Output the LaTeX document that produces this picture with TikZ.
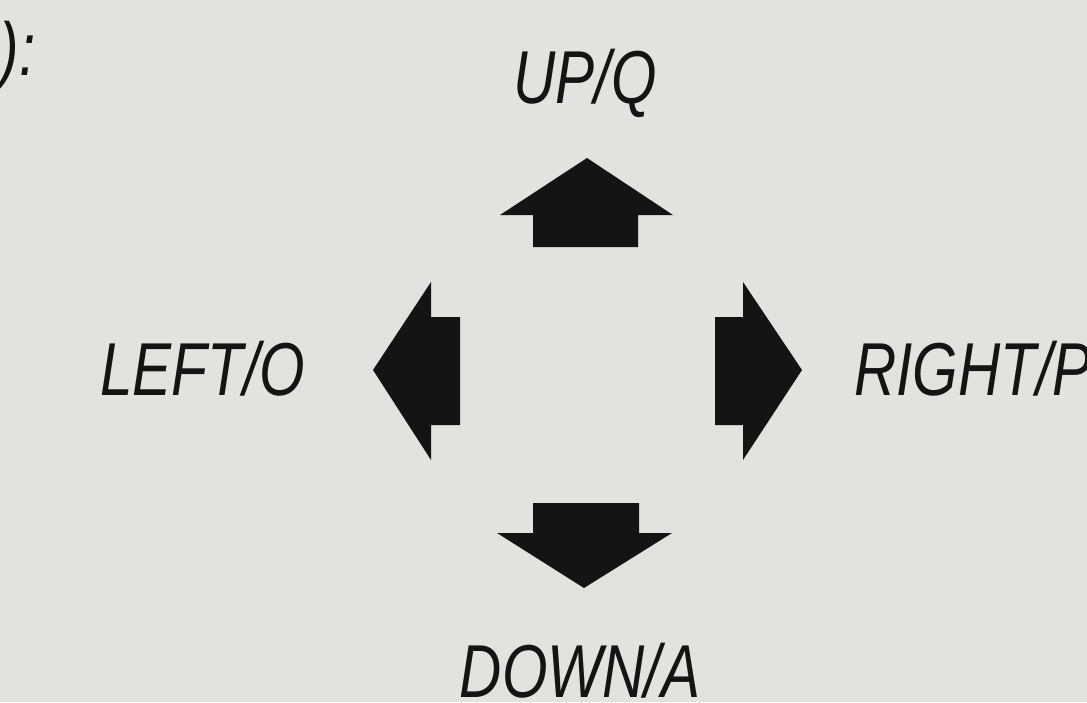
\documentclass[tikz,border=0pt]{standalone}
\usepackage{fontspec}
\setmainfont{Liberation Sans}[FakeStretch=0.78]
\usepackage{xcolor}
\definecolor{cPaper}{HTML}{E2E2E0}
\definecolor{cInk}{HTML}{141414}

\begin{document}
\begin{tikzpicture}[
  x=0.5pt, y=-0.5pt,
  lbl/.style={inner sep=0pt, anchor=base, text=cInk,
              font=\fontsize{37.5}{40}\selectfont\itshape},
  keyarrow/.style={fill=cInk, draw=none},
]
\useasboundingbox (0,0) rectangle (1087,702);
\fill[cPaper] (0,0) rectangle (1087,702);

% labels
\node[lbl, anchor=base east] (head)  at (36,75)   {):};
\node[lbl]                   (up)    at (585,103) {UP/Q};
\node[lbl, anchor=base west] (left)  at (100,395) {LEFT/O};
\node[lbl, anchor=base west] (right) at (854,395) {RIGHT/P};
\node[lbl]                   (down)  at (580,697) {DOWN/A};

% arrows
\fill[keyarrow] (587,158) -- (673,215) -- (638,215) -- (638,247)
  -- (533,247) -- (533,215) -- (500,215) -- cycle;
\fill[keyarrow] (373,370) -- (431,282) -- (431,317) -- (460,317)
  -- (460,425) -- (431,425) -- (431,460) -- cycle;
\fill[keyarrow] (802,370) -- (743,282) -- (743,317) -- (715,317)
  -- (715,425) -- (743,425) -- (743,460) -- cycle;
\fill[keyarrow] (584,588) -- (497,533) -- (533,533) -- (533,503)
  -- (639,503) -- (639,533) -- (672,533) -- cycle;
\end{tikzpicture}
\end{document}
